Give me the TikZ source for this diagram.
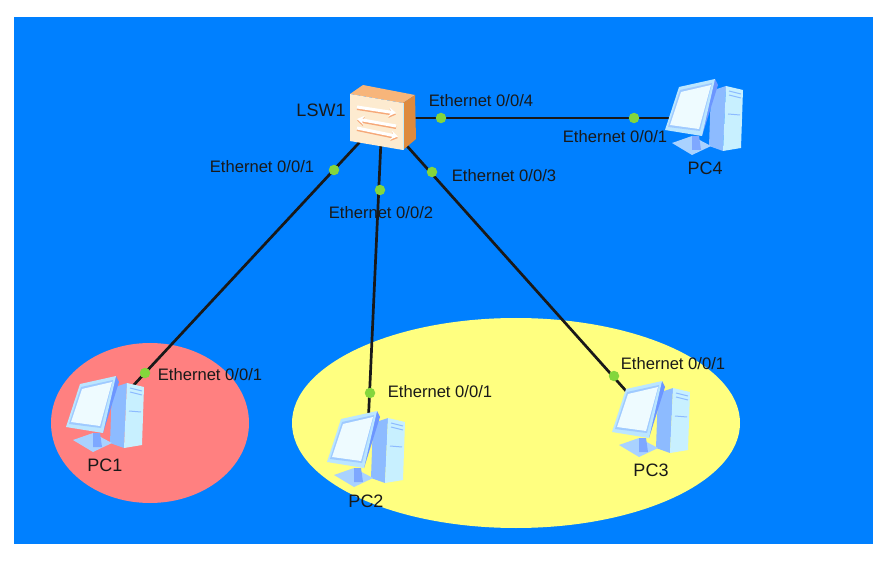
\documentclass[tikz,border=0pt]{standalone}
\usepackage{fontspec}
\setmainfont{Liberation Sans}
\usepackage{xcolor}
\usetikzlibrary{arrows.meta,positioning}
\definecolor{netblue}{HTML}{0080FF}
\definecolor{zonered}{HTML}{FF8080}
\definecolor{zoneyellow}{HTML}{FFFF80}
\definecolor{portgreen}{HTML}{84D63C}
\definecolor{pcside}{HTML}{8DBBFF}
\definecolor{pcfront}{HTML}{C8F0FF}
\definecolor{pcshell}{HTML}{BBE6FF}
\definecolor{pcscreen}{HTML}{EEFBFF}
\definecolor{pcedge}{HTML}{6C96FF}
\definecolor{pcstand}{HTML}{A9D2FF}
\definecolor{swtop}{HTML}{F7B57A}
\definecolor{swfront}{HTML}{FDEBD0}
\definecolor{swside}{HTML}{DE8A3E}
\definecolor{swmark}{HTML}{F6A878}

\begin{document}
\begin{tikzpicture}[
  x=1pt, y=-1pt,
  txt/.style={inner sep=0pt, font=\fontsize{16.6}{19}\selectfont, text=black!90},
  devname/.style={inner sep=0pt, font=\fontsize{18}{20}\selectfont, text=black!90},
  hostbox/.style={rectangle, minimum width=62pt, minimum height=54pt, inner sep=0pt},
  swbox/.style={rectangle, minimum width=40pt, minimum height=40pt, inner sep=0pt},
  port/.style={circle, fill=portgreen, minimum size=10.5pt, inner sep=0pt},
  link/.style={line width=2.7pt, draw=black!90},
  swarrow/.style={-{Stealth[length=7pt,width=9pt]}, line width=3pt, draw=white},
  swshadow/.style={-{Stealth[length=7pt,width=9pt]}, line width=3pt, draw=swmark},
  pcicon/.pic={
    \fill[pcside] (6,-27) -- (21,-32) -- (18,33) -- (4,28) -- cycle;
    \fill[pcfront] (21,-32) -- (38,-28) -- (36,30) -- (18,33) -- cycle;
    \draw[pcside, line width=1pt] (24,-27) -- (36,-24) (24,-23) -- (36,-20) (23,-4) -- (35,-3);
    \fill[pcstand] (-33,25) -- (-13,18) -- (6,28) -- (-13,37) -- cycle;
    \fill[pcedge!70!pcstand] (-13,18) -- (-6,18) -- (-4,32) -- (-13,32) -- cycle;
    \fill[pcedge] (10,-39) -- (13,-33) -- (-3,18) -- (-8,12) -- cycle;
    \fill[pcshell] (-26,-31) -- (10,-39) -- (-3,18) -- (-40,12) -- cycle;
    \fill[pcedge!35!pcshell] (-25,-28) -- (7,-35) -- (-5,13) -- (-37,9) -- cycle;
    \fill[pcscreen] (-24,-26) -- (6,-33) -- (-6,11) -- (-35,7) -- cycle;
  },
  swicon/.pic={
    \fill[swtop] (-32,-24) -- (-19,-33) -- (33,-23) -- (21,-15) -- cycle;
    \fill[swfront] (-32,-24) -- (21,-15) -- (21,32) -- (-32,23) -- cycle;
    \fill[swside] (21,-15) -- (33,-23) -- (34,21) -- (21,32) -- cycle;
    \draw[cyan!25, line width=.8pt] (21,-15) -- (21,32);
    \draw[swshadow] (-25,-9.5) -- (14,-3.5);
    \draw[swarrow] (-25,-11) -- (14,-5);
    \draw[swshadow] (14,9.5) -- (-25,2.5);
    \draw[swarrow] (14,8) -- (-25,1);
    \draw[swshadow] (-25,11.5) -- (16,20);
    \draw[swarrow] (-25,10) -- (16,18.5);
  }
]
\useasboundingbox (0,0) rectangle (889,561);
\fill[white] (0,0) rectangle (889,561);
\fill[netblue] (14,17) rectangle (873,544);
\fill[zonered] (150,423) ellipse [x radius=99, y radius=80];
\fill[zoneyellow] (516,423) ellipse [x radius=224, y radius=105];

\node[swbox] (lsw) at (382,118) {};
\node[hostbox] (pc1) at (106,415) {};
\node[hostbox] (pc2) at (367,450) {};
\node[hostbox] (pc3) at (652,420) {};
\node[hostbox] (pc4) at (705,118) {};

\draw[link] (lsw) -- (pc1);
\draw[link] (lsw) -- (pc2);
\draw[link] (lsw) -- (pc3);
\draw[link] (lsw) -- (pc4);

\pic at (lsw) {swicon};
\pic at (pc1) {pcicon};
\pic at (pc2) {pcicon};
\pic at (pc3) {pcicon};
\pic at (pc4) {pcicon};

\node[port] (p1a) at (334,170) {};
\node[port] (p2a) at (380,190) {};
\node[port] (p3a) at (432,172) {};
\node[port] (p4a) at (441,118) {};
\node[port] (p1b) at (145,373) {};
\node[port] (p2b) at (370,393) {};
\node[port] (p3b) at (614,376) {};
\node[port] (p4b) at (634,118) {};

\node[devname] (lswname) at (321,110) {LSW1};
\node[devname] (pc1name) at (105,465) {PC1};
\node[devname] (pc2name) at (366,501) {PC2};
\node[devname] (pc3name) at (651,470) {PC3};
\node[devname] (pc4name) at (705,168) {PC4};

\node[txt] (l1a) at (262,167) {Ethernet 0/0/1};
\node[txt] (l2a) at (381,213) {Ethernet 0/0/2};
\node[txt] (l3a) at (504,176) {Ethernet 0/0/3};
\node[txt] (l4a) at (481,101) {Ethernet 0/0/4};
\node[txt] (l1b) at (210,375) {Ethernet 0/0/1};
\node[txt] (l2b) at (440,392) {Ethernet 0/0/1};
\node[txt] (l3b) at (673,364) {Ethernet 0/0/1};
\node[txt] (l4b) at (615,137) {Ethernet 0/0/1};
\end{tikzpicture}
\end{document}
